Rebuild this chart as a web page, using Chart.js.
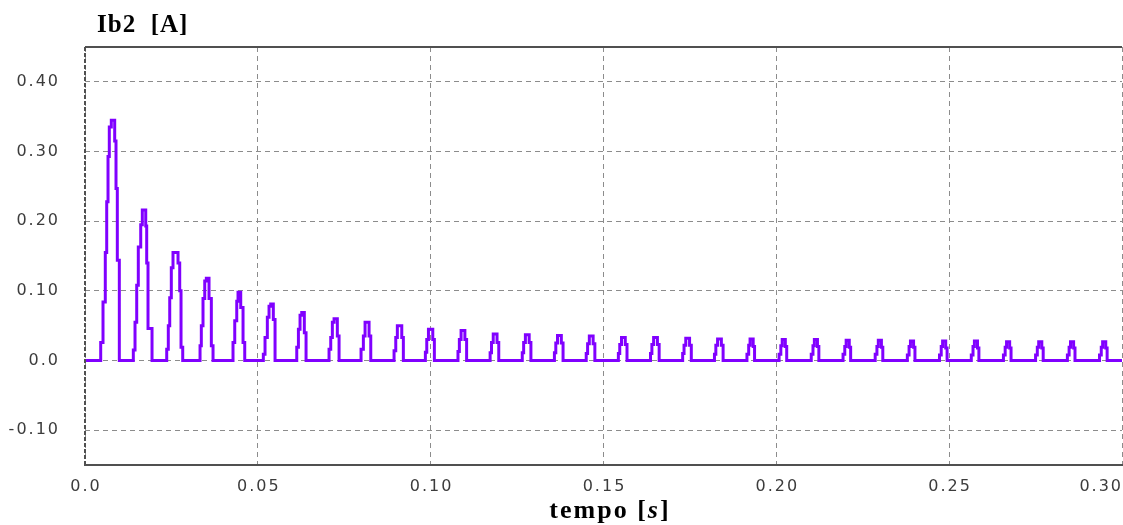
<!DOCTYPE html>
<html>
<head>
<meta charset="utf-8">
<script src="https://cdn.jsdelivr.net/npm/chart.js@4.4.1/dist/chart.umd.min.js"></script>
<style>
  body { margin: 0; background: #fff; }
  canvas { display: block; }
</style>
</head>
<body>
<canvas id="ib2Chart" width="1123" height="525"></canvas>
<script>
// tick values and labels
const xTicks = [0, 0.05, 0.10, 0.15, 0.20, 0.25, 0.30];
const xLabels = ["0.0", "0.05", "0.10", "0.15", "0.20", "0.25", "0.30"];
const yTicks = [-0.10, 0.0, 0.10, 0.20, 0.30, 0.40];
const yLabels = ["-0.10", "0.0", "0.10", "0.20", "0.30", "0.40"];

// each pulse: times [s] where the current steps, and the level [A] it steps to
const pulseT = [
  [0.00454, 0.00521, 0.00587, 0.00628, 0.00666, 0.00703, 0.00761, 0.00859, 0.00897, 0.00935, 0.00993],
  [0.01398, 0.01447, 0.01496, 0.01542, 0.01612, 0.01658, 0.01757, 0.01785, 0.01823, 0.01939],
  [0.02364, 0.02410, 0.02451, 0.02497, 0.02546, 0.02691, 0.02740, 0.02778, 0.02827],
  [0.03328, 0.03365, 0.03414, 0.03464, 0.03510, 0.03588, 0.03655, 0.03704],
  [0.04282, 0.04332, 0.04390, 0.04427, 0.04505, 0.04572, 0.04621],
  [0.05159, 0.05208, 0.05275, 0.05324, 0.05373, 0.05448, 0.05498],
  [0.06126, 0.06174, 0.06221, 0.06270, 0.06345, 0.06395],
  [0.07060, 0.07109, 0.07156, 0.07205, 0.07300, 0.07350],
  [0.07986, 0.08053, 0.08102, 0.08218, 0.08267],
  [0.08941, 0.08990, 0.09036, 0.09164, 0.09210],
  [0.09847, 0.09887, 0.09936, 0.10061, 0.10107],
  [0.1079, 0.1083, 0.1088, 0.1099, 0.1104],
  [0.1172, 0.1176, 0.1181, 0.1192, 0.1197],
  [0.1265, 0.1269, 0.1274, 0.1285, 0.1290],
  [0.1358, 0.1362, 0.1367, 0.1378, 0.1383],
  [0.1450, 0.1454, 0.1459, 0.1470, 0.1475],
  [0.1543, 0.1547, 0.1552, 0.1563, 0.1568],
  [0.1636, 0.1640, 0.1645, 0.1656, 0.1661],
  [0.1729, 0.1733, 0.1738, 0.1749, 0.1754],
  [0.1821, 0.1825, 0.1830, 0.1841, 0.1846],
  [0.1915, 0.1920, 0.1924, 0.1933, 0.1937],
  [0.2008, 0.2013, 0.2017, 0.2026, 0.2030],
  [0.2101, 0.2106, 0.2110, 0.2119, 0.2123],
  [0.2193, 0.2198, 0.2202, 0.2211, 0.2215],
  [0.2286, 0.2291, 0.2295, 0.2304, 0.2308],
  [0.2379, 0.2384, 0.2388, 0.2397, 0.2401],
  [0.2472, 0.2477, 0.2481, 0.2490, 0.2494],
  [0.2564, 0.2569, 0.2573, 0.2582, 0.2586],
  [0.2657, 0.2662, 0.2666, 0.2675, 0.2679],
  [0.2750, 0.2755, 0.2759, 0.2768, 0.2772],
  [0.2842, 0.2847, 0.2851, 0.2860, 0.2864],
  [0.2935, 0.2940, 0.2944, 0.2953, 0.2957]
];
const pulseI = [
  [0.026, 0.084, 0.155, 0.228, 0.293, 0.335, 0.345, 0.315, 0.247, 0.144, 0],
  [0.015, 0.055, 0.108, 0.163, 0.195, 0.216, 0.193, 0.140, 0.046, 0],
  [0.016, 0.050, 0.090, 0.133, 0.155, 0.140, 0.100, 0.019, 0],
  [0.021, 0.050, 0.089, 0.114, 0.118, 0.089, 0.021, 0],
  [0.026, 0.057, 0.085, 0.098, 0.076, 0.026, 0],
  [0.009, 0.033, 0.062, 0.078, 0.081, 0.059, 0],
  [0.019, 0.045, 0.065, 0.069, 0.040, 0],
  [0.016, 0.033, 0.055, 0.060, 0.035, 0],
  [0.016, 0.035, 0.055, 0.035, 0],
  [0.014, 0.033, 0.050, 0.033, 0],
  [0.012, 0.030, 0.045, 0.030, 0],
  [0.013, 0.030, 0.043, 0.030, 0],
  [0.011, 0.026, 0.038, 0.026, 0],
  [0.011, 0.026, 0.037, 0.026, 0],
  [0.011, 0.025, 0.036, 0.025, 0],
  [0.010, 0.024, 0.035, 0.024, 0],
  [0.010, 0.023, 0.033, 0.023, 0],
  [0.010, 0.023, 0.033, 0.023, 0],
  [0.010, 0.022, 0.032, 0.022, 0],
  [0.009, 0.022, 0.031, 0.022, 0],
  [0.009, 0.022, 0.031, 0.020, 0],
  [0.009, 0.021, 0.030, 0.020, 0],
  [0.009, 0.021, 0.030, 0.020, 0],
  [0.009, 0.020, 0.029, 0.019, 0],
  [0.009, 0.020, 0.029, 0.019, 0],
  [0.008, 0.020, 0.028, 0.019, 0],
  [0.008, 0.020, 0.028, 0.018, 0],
  [0.008, 0.020, 0.028, 0.018, 0],
  [0.008, 0.019, 0.027, 0.018, 0],
  [0.008, 0.019, 0.027, 0.018, 0],
  [0.008, 0.019, 0.027, 0.018, 0],
  [0.008, 0.019, 0.027, 0.018, 0]
];

const points = [{ x: 0, y: 0 }];
pulseT.forEach((ts, p) => {
  ts.forEach((t, i) => points.push({ x: t, y: pulseI[p][i] }));
});
points.push({ x: 0.30, y: 0 });

const tickFont = "16px 'DejaVu Sans'";
const tickColor = "#3c3c3c";
const gridColor = "#8c8c8c";

const decor = {
  id: "decor",
  beforeDraw(chart) {
    chart.ctx.letterSpacing = "2px";
  },
  afterDraw(chart) {
    const ctx = chart.ctx;
    const area = chart.chartArea;
    const xs = chart.scales.x;
    ctx.save();
    // top frame line
    ctx.strokeStyle = "#505050";
    ctx.lineWidth = 2;
    ctx.beginPath();
    ctx.moveTo(area.left, area.top);
    ctx.lineTo(area.right, area.top);
    ctx.stroke();
    // left axis, dashed
    ctx.setLineDash([4, 2]);
    ctx.beginPath();
    ctx.moveTo(area.left, area.top);
    ctx.lineTo(area.left, area.bottom);
    ctx.stroke();
    ctx.setLineDash([]);

    // x tick labels, last one kept inside the canvas
    ctx.font = tickFont;
    ctx.fillStyle = tickColor;
    ctx.letterSpacing = "2px";
    ctx.textBaseline = "top";
    ctx.textAlign = "left";
    xTicks.forEach((v, i) => {
      const w = ctx.measureText(xLabels[i]).width;
      let cx = xs.getPixelForValue(v);
      if (cx + w / 2 > chart.width - 1) cx = chart.width - 1 - w / 2;
      ctx.fillText(xLabels[i], cx - w / 2 + 1, area.bottom + 14);
    });

    // axis titles
    ctx.letterSpacing = "1px";
    ctx.fillStyle = "#000";
    ctx.textBaseline = "alphabetic";
    ctx.font = "bold 25px 'Liberation Serif'";
    ctx.fillText("Ib2  [A]", 97, 32);

    ctx.letterSpacing = "2px";
    const part1 = "tempo [";
    const part2 = "s";
    const part3 = "]";
    const f1 = "bold 26px 'Liberation Serif'";
    const f2 = "bold italic 26px 'Liberation Serif'";
    ctx.font = f1;
    const w1 = ctx.measureText(part1).width;
    const w3 = ctx.measureText(part3).width;
    ctx.font = f2;
    const w2 = ctx.measureText(part2).width;
    let x = 610 - (w1 + w2 + w3) / 2;
    ctx.font = f1; ctx.fillText(part1, x, 518); x += w1;
    ctx.font = f2; ctx.fillText(part2, x, 518); x += w2;
    ctx.font = f1; ctx.fillText(part3, x, 518);
    ctx.restore();
  }
};

new Chart(document.getElementById("ib2Chart").getContext("2d"), {
  type: "line",
  data: {
    datasets: [{
      label: "Ib2",
      data: points,
      borderColor: "#8000ff",
      borderWidth: 3,
      pointRadius: 0,
      stepped: "before",
      fill: false
    }]
  },
  options: {
    responsive: false,
    animation: false,
    layout: { padding: { top: 47, right: 1, left: 0, bottom: 0 } },
    plugins: { legend: { display: false }, tooltip: { enabled: false } },
    scales: {
      x: {
        type: "linear",
        min: 0,
        max: 0.30,
        afterBuildTicks: (scale) => { scale.ticks = xTicks.map((v) => ({ value: v })); },
        afterFit: (scale) => { scale.height = 60; },
        ticks: { display: false },
        grid: { color: gridColor, lineWidth: 1, drawTicks: false },
        border: { display: true, color: "#505050", width: 2, dash: [5, 4] }
      },
      y: {
        min: -0.15,
        max: 0.45,
        afterBuildTicks: (scale) => { scale.ticks = yTicks.map((v) => ({ value: v })); },
        afterFit: (scale) => { scale.width = 85; },
        ticks: {
          padding: 25,
          color: tickColor,
          font: { family: "DejaVu Sans", size: 16 },
          callback: (value, index) => yLabels[index]
        },
        grid: { color: gridColor, lineWidth: 1, drawTicks: false },
        border: { display: false, dash: [5, 4] }
      }
    }
  },
  plugins: [decor]
});
</script>
</body>
</html>
